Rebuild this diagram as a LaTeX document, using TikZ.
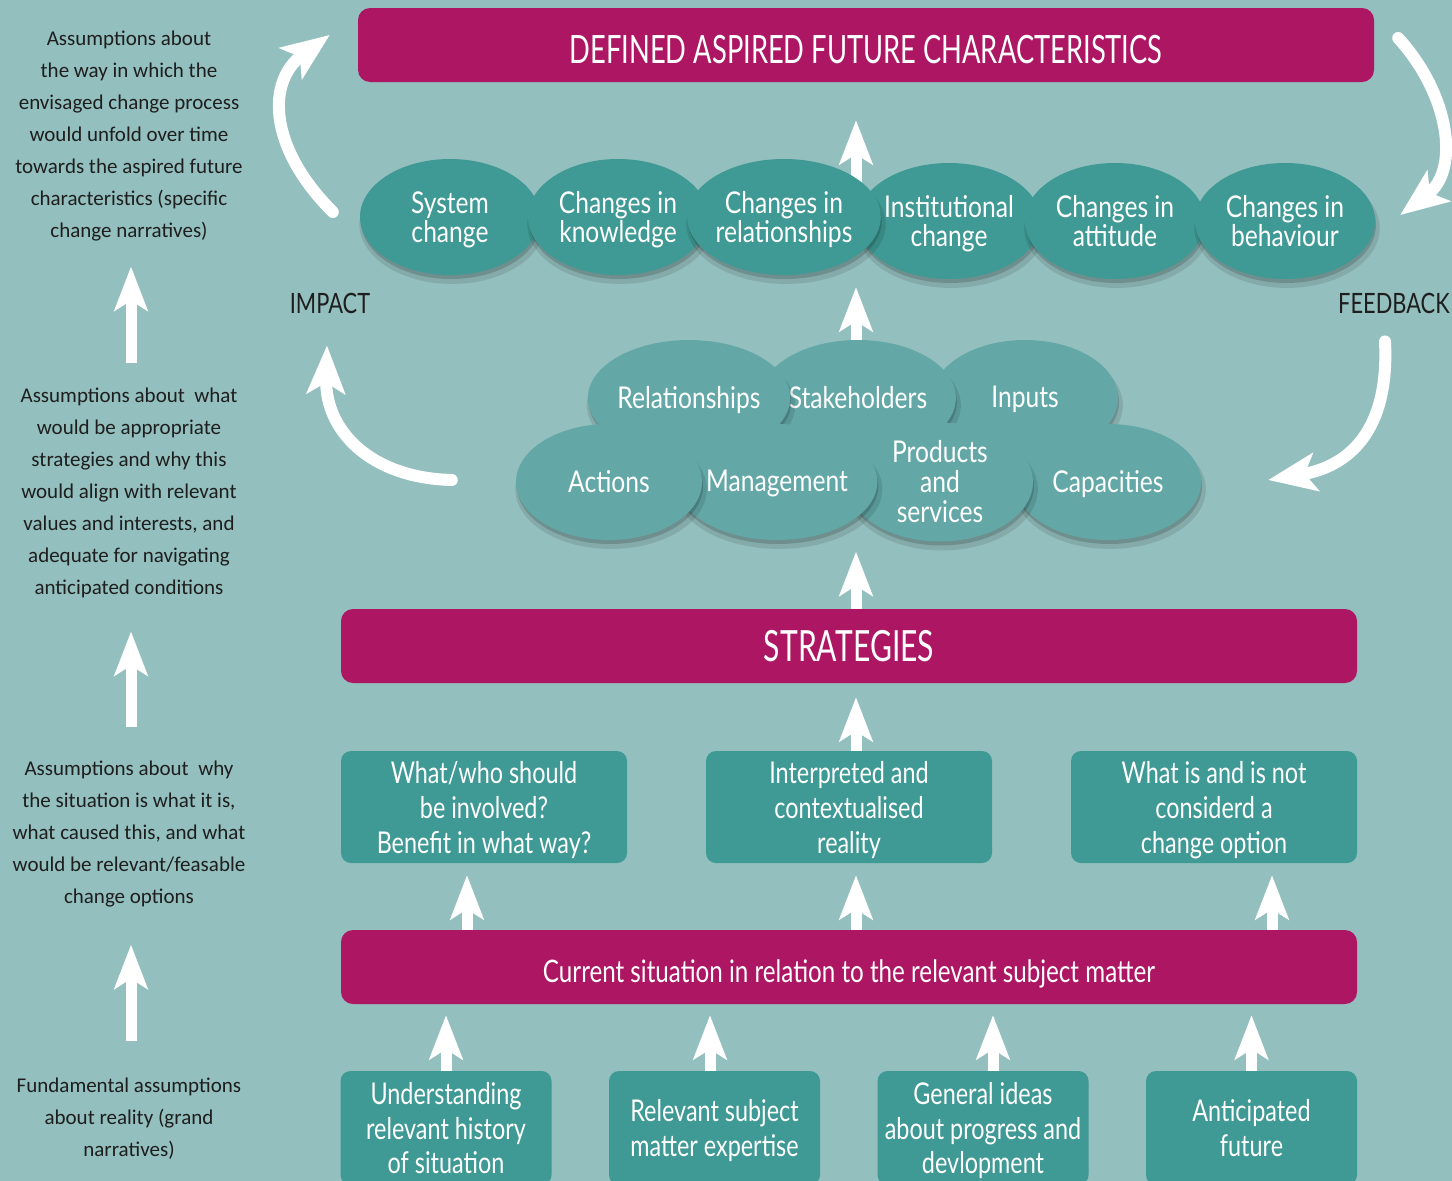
\documentclass[tikz,border=0pt]{standalone}
\usepackage{fontspec}
\setmainfont{Carlito}
\newfontfamily\cond[FakeStretch=0.78]{Lato}
\newfontfamily\condoval[FakeStretch=0.82]{Lato}
\newfontfamily\condcaps[FakeStretch=0.70]{Lato}
\usetikzlibrary{arrows.meta,shadows,calc,shapes.geometric}
\definecolor{bgc}{RGB}{147,191,190}
\definecolor{mag}{RGB}{173,22,99}
\definecolor{tealA}{RGB}{63,153,148}
\definecolor{tealB}{RGB}{99,168,167}
\definecolor{ink}{RGB}{30,30,30}
\pgfdeclarelayer{backlayer}
\pgfdeclarelayer{arrowlayer}
\pgfsetlayers{backlayer,arrowlayer,main}
\tikzset{
  ovalshadow/.style={
    drop shadow={shadow xshift=2pt, shadow yshift=-7pt, shadow scale=1.03, opacity=0.10, fill=black},
    drop shadow={shadow xshift=1pt, shadow yshift=-4pt, opacity=0.16, fill=black}},
  bar/.style={fill=mag, rounded corners=12pt, minimum width=1016pt, minimum height=74pt, inner sep=0pt, text=white},
  ovalA/.style={ellipse, fill=tealA, minimum width=180pt, minimum height=116pt, inner sep=0pt, align=center, text=white, font=\condoval\fontsize{30}{29.5}\selectfont, text depth=0pt, ovalshadow},
  ovalB/.style={ellipse, fill=tealB, minimum width=186pt, minimum height=116pt, inner sep=0pt, align=center, text=white, font=\condoval\fontsize{30}{30}\selectfont, text depth=2pt, ovalshadow},
  midbox/.style={fill=tealA, rounded corners=10pt, minimum width=286pt, minimum height=112pt, inner sep=0pt, align=center, text=white, font=\cond\fontsize{30}{35}\selectfont, text depth=0pt},
  lowbox/.style={fill=tealA, rounded corners=10pt, minimum width=211pt, minimum height=114pt, inner sep=0pt, align=center, text=white, font=\cond\fontsize{30}{34.5}\selectfont, text depth=0pt},
  sidetext/.style={align=center, text=ink, inner sep=0pt, font=\fontsize{21}{32}\selectfont},
  sidelabel/.style={text=ink, inner sep=0pt, font=\cond\fontsize{28}{30}\selectfont},
  bigarrow/.style={draw=white, line width=11pt, -{Stealth[length=44pt, width=33pt, inset=10pt]}},
  curvearrow/.style={draw=white, line width=12pt, line cap=round, -{Stealth[length=48pt, width=38pt, inset=11pt]}},
}
\begin{document}
\begin{tikzpicture}[x=1pt, y=-1pt]
\useasboundingbox (0,0) rectangle (1452,1181);
\begin{pgfonlayer}{backlayer}
  \fill[bgc] (0,0) rectangle (1452,1181);
\end{pgfonlayer}

% bars
\node[bar, font=\condcaps\fontsize{39}{39}\selectfont] (title) at (866,45) {\raisebox{-5pt}[\height][\depth]{DEFINED ASPIRED FUTURE CHARACTERISTICS}};
\node[bar, font=\condcaps\fontsize{43}{43}\selectfont] (strat) at (849,646) {STRATEGIES};
\node[bar, font=\cond\fontsize{31}{31}\selectfont] (cur) at (849,967) {\raisebox{-7pt}[\height][\depth]{Current situation in relation to the relevant subject matter}};

% top row of outcome ellipses
\node[ovalA] (sys) at (450,217) {System\\change};
\node[ovalA] (know) at (618,217) {Changes in\\knowledge};
\node[ovalA] (inst) at (949,221) {Institutional\\change};
\node[ovalA] (rel) at (784,217) {Changes in\\relationships};
\node[ovalA] (att) at (1115,221) {Changes in\\attitude};
\node[ovalA] (beh) at (1285,221) {Changes in\\behaviour};

% middle cluster
\node[ovalB] (inp) at (1025,398) {Inputs};
\node[ovalB] (stake) at (858,398) {Stakeholders};
\node[ovalB] (rel2) at (689,398) {Relationships};
\node[ovalB] (capa) at (1108,482) {Capacities};
\node[ovalB] (prod) at (940,482) {Products\\and\\services};
\node[ovalB] (mgmt) at (777,482) {Management};
\node[ovalB] (act) at (609,482) {Actions};

% middle boxes
\node[midbox] (m1) at (484,807) {What/who should\\be involved?\\Benefit in what way?};
\node[midbox] (m2) at (849,807) {Interpreted and\\contextualised\\reality};
\node[midbox] (m3) at (1214,807) {What is and is not\\considerd a\\change option};

% bottom boxes
\node[lowbox] (b1) at (446,1128) {Understanding\\relevant history\\of situation};
\node[lowbox] (b2) at (714.5,1128) {Relevant subject\\matter expertise};
\node[lowbox] (b3) at (983,1128) {General ideas\\about progress and\\devlopment};
\node[lowbox] (b4) at (1251.5,1128) {Anticipated\\future};

% side texts
\node[sidetext] (l1) at (129,136) {Assumptions about\\the way in which the\\envisaged change process\\would unfold over time\\towards the aspired future\\characteristics (specific\\change narratives)};
\node[sidetext] (l2) at (129,493) {Assumptions about~ what\\would be appropriate\\strategies and why this\\would align with relevant\\values and interests, and\\adequate for navigating\\anticipated conditions};
\node[sidetext] (l3) at (129,834) {Assumptions about~ why\\the situation is what it is,\\what caused this, and what\\would be relevant/feasable\\change options};
\node[sidetext] (l4) at (129,1119) {Fundamental assumptions\\about reality (grand\\narratives)};

% labels
\node[sidelabel] (impact) at (330,303) {IMPACT};
\node[sidelabel, anchor=west] (fb) at (1338,303) {FEEDBACK};

% column coordinates for straight arrows
\coordinate (xm) at (856,0);
\coordinate (xa) at (467,0);
\coordinate (xb) at (1272,0);
\coordinate (xc) at (710,0);
\coordinate (xd) at (993,0);

\begin{pgfonlayer}{arrowlayer}
  \draw[bigarrow] (rel.center -| xm) -- ($(title.south -| xm)+(0,38)$);
  \draw[bigarrow] (stake.center -| xm) -- ($(rel.south -| xm)+(0,12)$);
  \draw[bigarrow] (strat.north -| xm) -- ($(prod.south -| xm)+(0,10)$);
  \draw[bigarrow] (m2.north -| xm) -- ($(strat.south -| xm)+(0,14)$);
  \draw[bigarrow] (cur.north -| xm) -- ($(m2.south -| xm)+(0,12)$);
  \draw[bigarrow] (cur.north -| xa) -- ($(m1.south -| xa)+(0,12)$);
  \draw[bigarrow] (cur.north -| xb) -- ($(m3.south -| xb)+(0,12)$);
  \draw[bigarrow] (b1.north) -- ($(cur.south -| b1.north)+(0,11)$);
  \draw[bigarrow] (b2.north -| xc) -- ($(cur.south -| xc)+(0,11)$);
  \draw[bigarrow] (b3.north -| xd) -- ($(cur.south -| xd)+(0,11)$);
  \draw[bigarrow] (b4.north) -- ($(cur.south -| b4.north)+(0,11)$);
  % left column
  \draw[bigarrow] ($(l2.north)!0.5!(l1.south)+(2,48)$) -- ($(l2.north)!0.5!(l1.south)+(2,-48)$);
  \draw[bigarrow] ($(l3.north)!0.5!(l2.south)+(2,48)$) -- ($(l3.north)!0.5!(l2.south)+(2,-48)$);
  \draw[bigarrow] ($(l4.north)!0.5!(l3.south)+(2,48)$) -- ($(l4.north)!0.5!(l3.south)+(2,-48)$);
\end{pgfonlayer}

% curved arrows
\draw[curvearrow] ($(sys.west)+(-27,-5)$) .. controls (266,145) and (268,80) .. ($(title.west)+(-28,-10)$);
\draw[curvearrow] ($(act.west)+(-64,-2)$) .. controls (370,478) and (325,430) .. ($(impact.south)+(-3,32)$);
\draw[curvearrow] ($(title.east)+(24,-7)$) .. controls (1450,95) and (1460,170) .. ($(beh.east)+(25,-6)$);
\draw[curvearrow] ($(fb.south west)+(47,28)$) .. controls (1390,440) and (1340,468) .. ($(capa.east)+(67,-2)$);
\end{tikzpicture}
\end{document}
